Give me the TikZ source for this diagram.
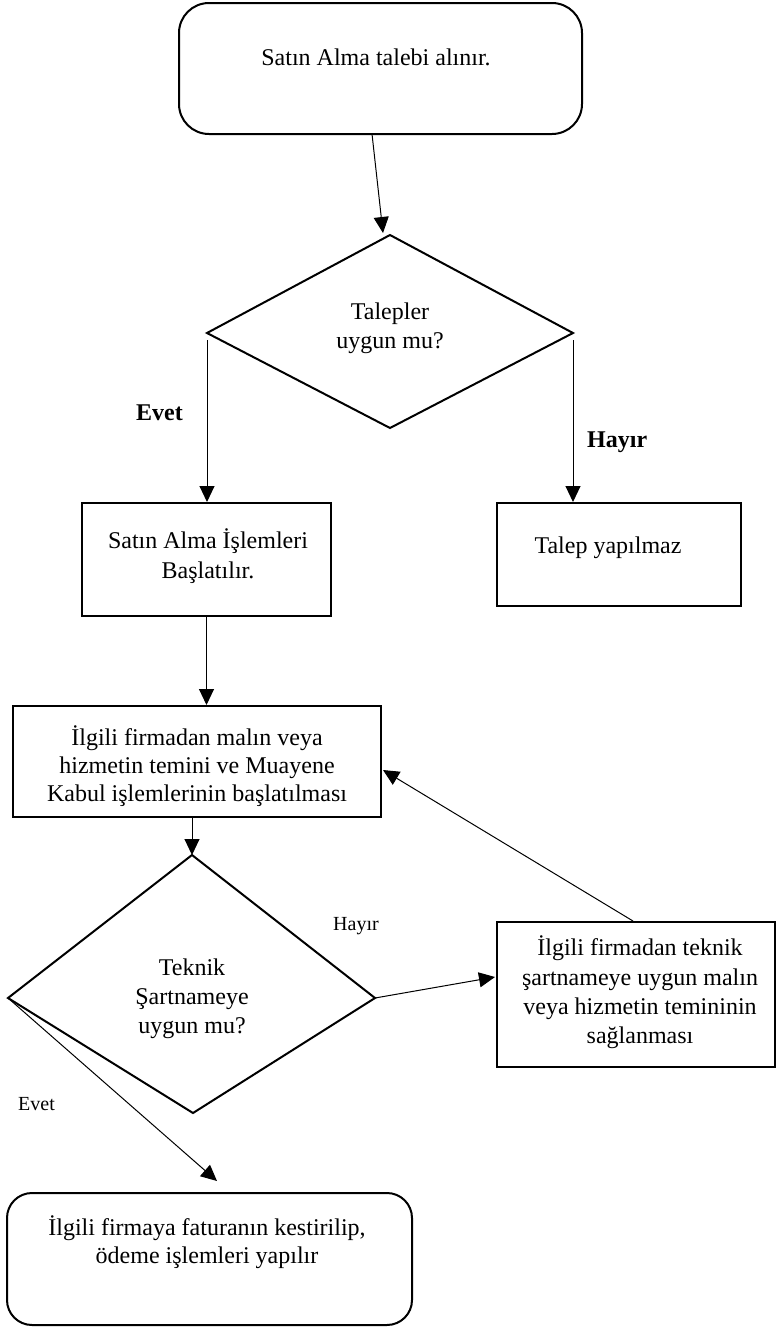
\documentclass[tikz,border=0pt]{standalone}
\usepackage{fontspec}
\setmainfont{Liberation Serif}
\usetikzlibrary{arrows.meta,calc}
\begin{document}
\begin{tikzpicture}[x=1pt,y=-1pt,
  shp/.style={draw, line width=2pt, inner sep=0pt, line join=miter},
  conn/.style={line width=1pt, -{Triangle[length=16pt,width=15pt]}},
  txt/.style={font=\fontsize{24}{29}\selectfont, inner sep=0pt, anchor=base},
  lbl/.style={font=\fontsize{20}{24}\selectfont, inner sep=0pt, anchor=base west},
  blbl/.style={font=\fontsize{24}{29}\selectfont\bfseries, inner sep=0pt, anchor=base west}]
\useasboundingbox (0,0) rectangle (776,1328);
% boxes
\node[shp, rounded corners=30pt, minimum width=403pt, minimum height=131pt] (b1) at (380.5,68.5) {};
\node[shp, minimum width=249pt, minimum height=113pt] (b2) at (206.5,559.5) {};
\node[shp, minimum width=244pt, minimum height=103pt] (b3) at (619,554.5) {};
\node[shp, minimum width=368pt, minimum height=111pt] (b4) at (197,761.5) {};
\node[shp, minimum width=278pt, minimum height=145pt] (b5) at (636,994.5) {};
\node[shp, rounded corners=25pt, minimum width=405pt, minimum height=132pt] (b6) at (209.5,1259) {};
% diamonds
\coordinate (d1t) at (390,235);
\coordinate (d1l) at (207,333);
\coordinate (d1r) at (573,333);
\coordinate (d1b) at (390,428);
\draw[line width=2pt] (d1t) -- (d1r) -- (d1b) -- (d1l) -- cycle;
\coordinate (d2t) at (192,855);
\coordinate (d2l) at (8,998);
\coordinate (d2r) at (375,998);
\coordinate (d2b) at (193,1113);
\draw[line width=2pt] (d2t) -- (d2r) -- (d2b) -- (d2l) -- cycle;
% texts
\node[txt] (t1) at (376,65) {Satın Alma talebi alınır.};
\node[txt] (t2a) at (390,319) {Talepler};
\node[txt] (t2b) at (390,348) {uygun mu?};
\node[txt] (t3a) at (208,548) {Satın Alma İşlemleri};
\node[txt] (t3b) at (208,578) {Başlatılır.};
\node[txt] (t4) at (608,553) {Talep yapılmaz};
\node[txt] (t5a) at (197,745) {İlgili firmadan malın veya};
\node[txt] (t5b) at (197,773) {hizmetin temini ve Muayene};
\node[txt] (t5c) at (197,801) {Kabul işlemlerinin başlatılması};
\node[txt] (t6a) at (192,975) {Teknik};
\node[txt] (t6b) at (192,1004) {Şartnameye};
\node[txt] (t6c) at (192,1033) {uygun mu?};
\node[txt] (t7a) at (640,955) {İlgili firmadan teknik};
\node[txt] (t7b) at (640,985) {şartnameye uygun malın};
\node[txt] (t7c) at (640,1014) {veya hizmetin temininin};
\node[txt] (t7d) at (640,1043) {sağlanması};
\node[txt] (t8a) at (207,1235) {İlgili firmaya faturanın kestirilip,};
\node[txt] (t8b) at (207,1263) {ödeme işlemleri yapılır};
% labels
\node[blbl] (l1) at (136,420) {Evet};
\node[blbl] (l2) at (587,447) {Hayır};
\node[lbl] (l3) at (333,930) {Hayır};
\node[lbl] (l4) at (18,1110) {Evet};
% connectors
\coordinate (a1s) at (372,134);
\coordinate (a1e) at (383,233);
\draw[conn] (a1s) -- (a1e);
\draw[conn] ($(d1l)+(0,7)$) -- (d1l |- b2.north);
\draw[conn] ($(d1r)+(0,7)$) -- (d1r |- b3.north);
\draw[conn] (b2.south) -- (b2.south |- b4.north);
\draw[conn] ($(b4.south)+(-5,0)$) -- (d2t);
\coordinate (a6e) at (495,977);
\draw[conn] (d2r) -- (a6e);
\coordinate (a7s) at (633,921);
\coordinate (a7e) at (383,770);
\draw[conn] (a7s) -- (a7e);
\coordinate (a8e) at (217,1181);
\draw[conn] (d2l) -- (a8e);
\end{tikzpicture}
\end{document}
